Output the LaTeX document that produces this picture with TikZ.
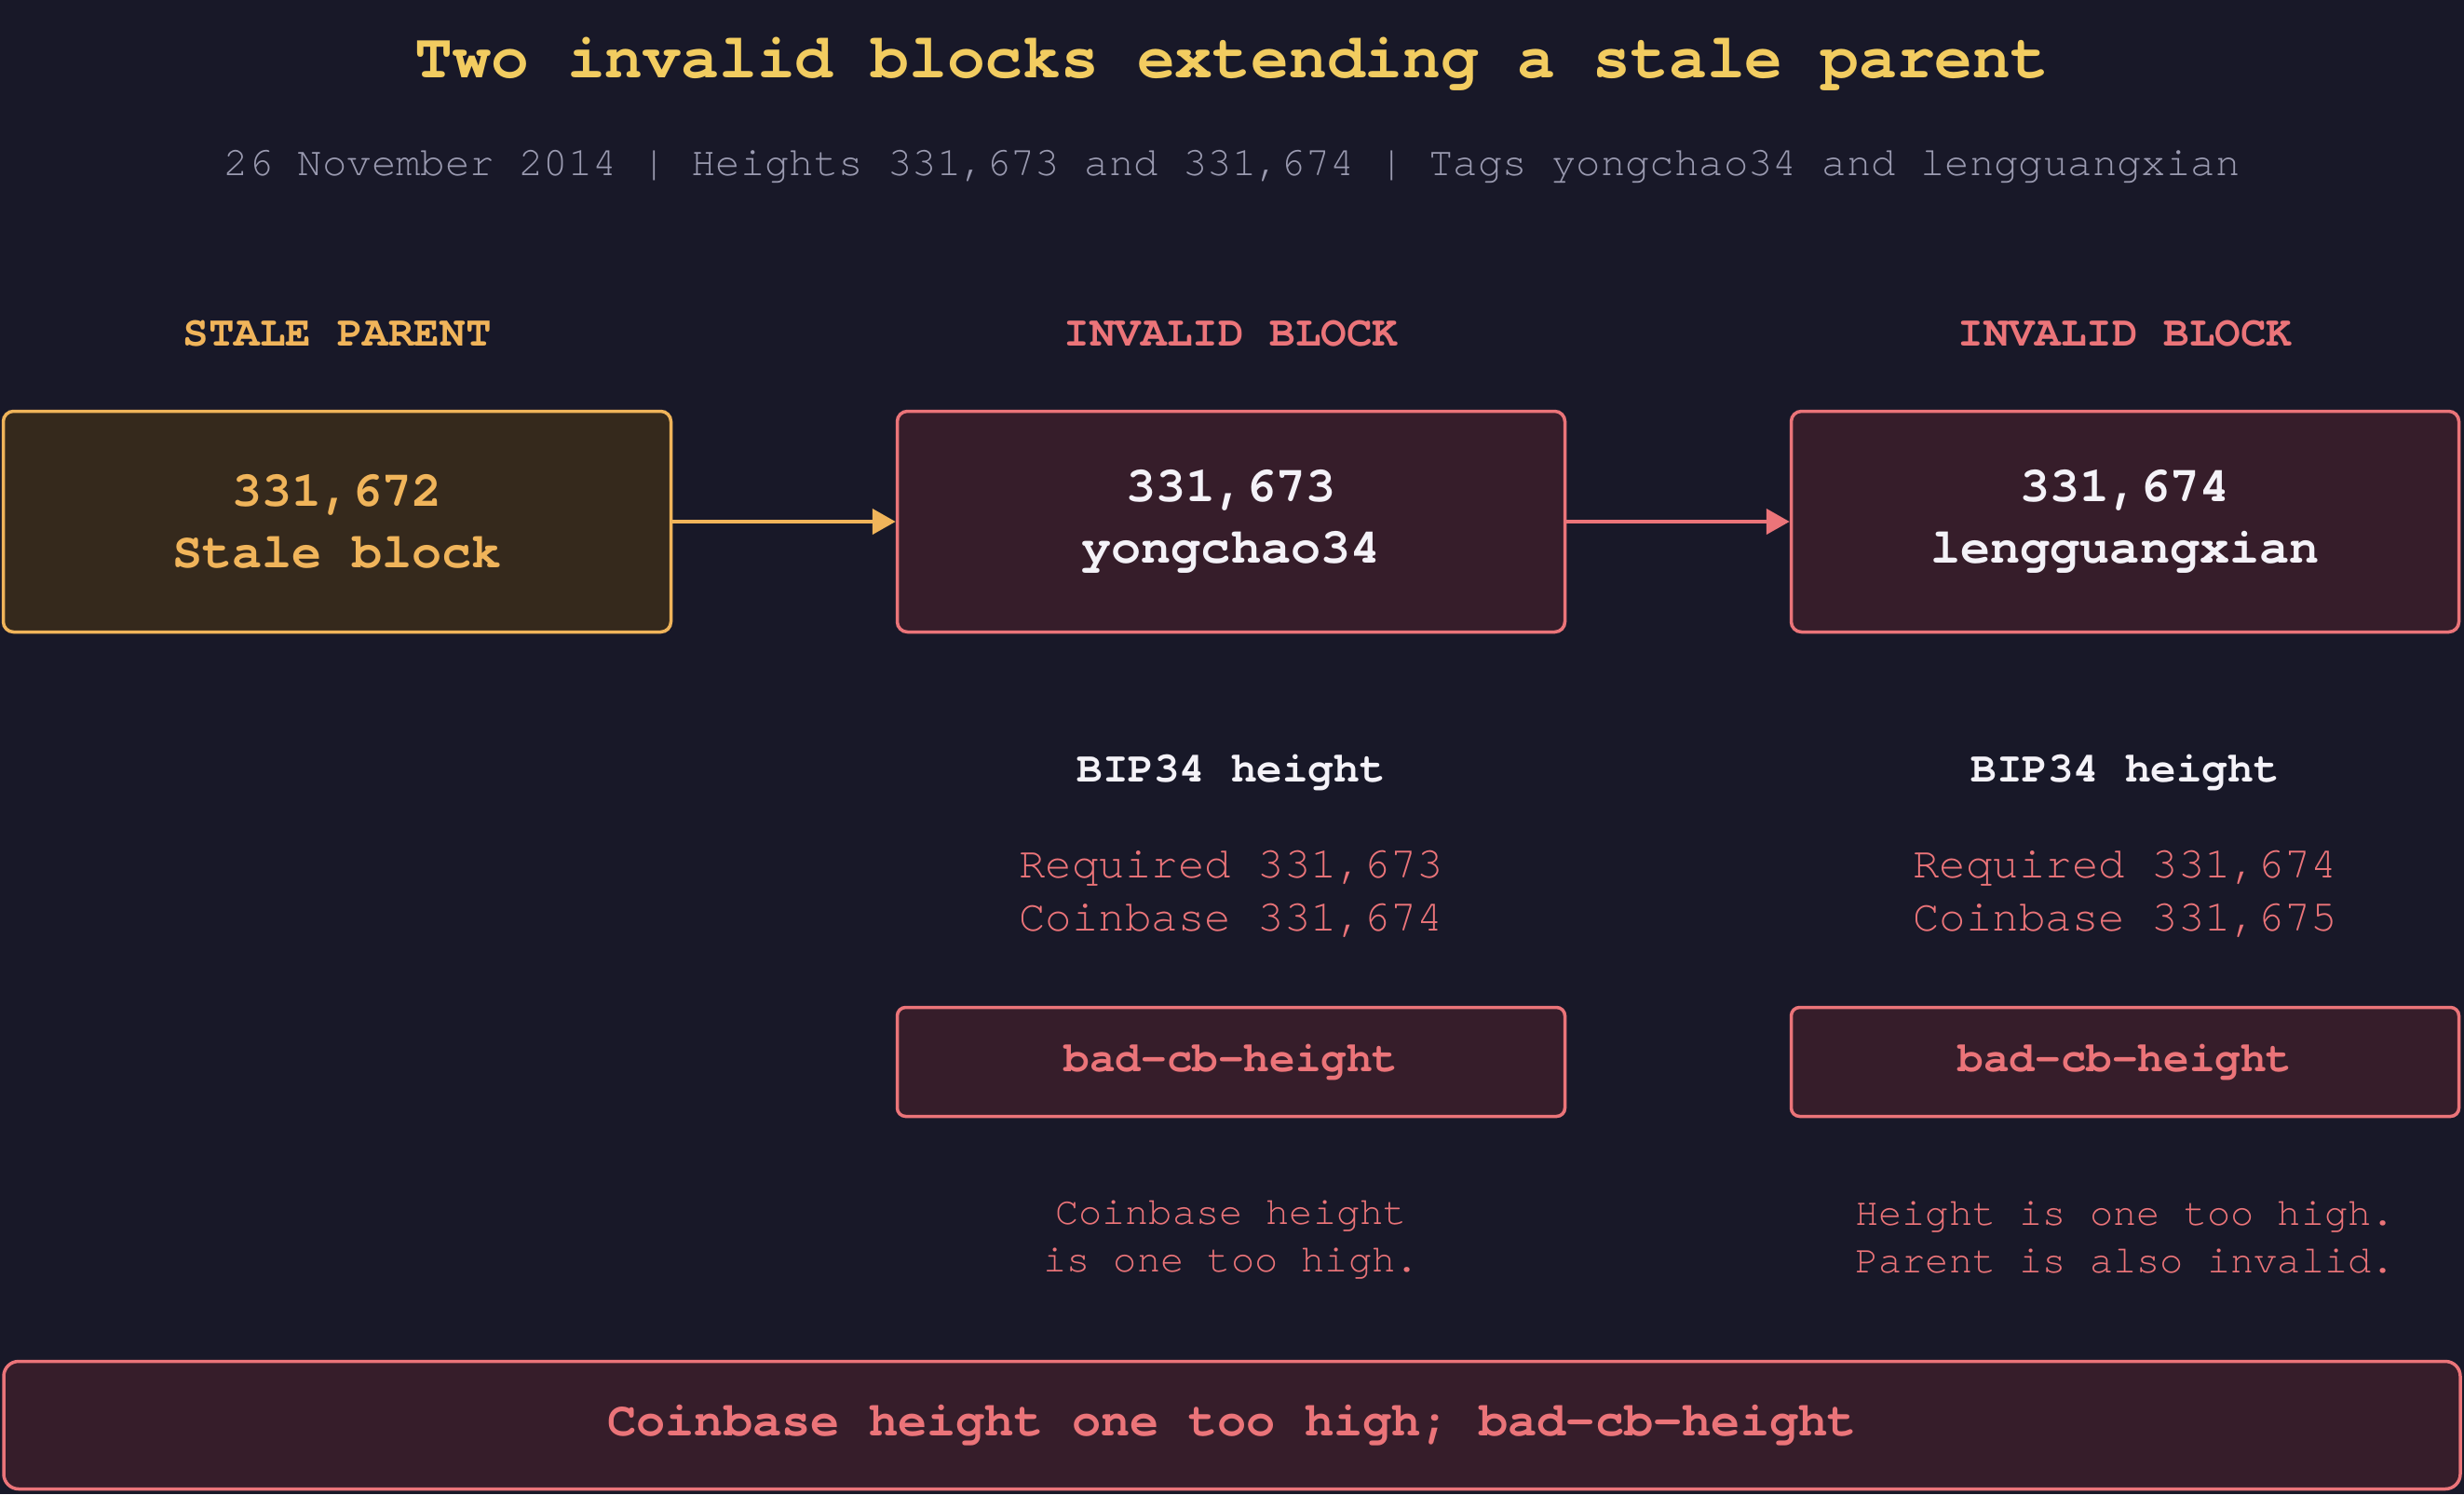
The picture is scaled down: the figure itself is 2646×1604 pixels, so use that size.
\documentclass[tikz,border=0pt]{standalone}
\usepackage{fontspec}
\setmainfont{TeX Gyre Cursor}
\usetikzlibrary{arrows.meta, positioning}
\definecolor{bgcolor}{HTML}{181828}
\definecolor{titlecolor}{HTML}{F2CC60}
\definecolor{subcolor}{HTML}{9A9AB0}
\definecolor{stalecolor}{HTML}{F0B45A}
\definecolor{stalefill}{HTML}{35291C}
\definecolor{badcolor}{HTML}{EB7479}
\definecolor{badfill}{HTML}{361D2A}
\definecolor{textwhite}{HTML}{F4F2F8}
\newcommand{\fsz}[2]{\fontsize{#1}{#2}\selectfont}

\begin{document}
\begin{tikzpicture}[
    x=1pt, y=-1pt,
    block/.style={draw, line width=3.5pt, rounded corners=11pt, minimum width=717pt, minimum height=237pt, inner sep=0pt, align=center, font=\fsz{53.5}{66}\bfseries},
    staleblock/.style={block, stalecolor, fill=stalefill, text=stalecolor},
    badblock/.style={block, badcolor, fill=badfill, text=textwhite},
    errbox/.style={draw=badcolor, fill=badfill, line width=3.5pt, rounded corners=9pt, minimum width=717pt, minimum height=117pt, inner sep=0pt, text=badcolor, font=\fsz{46}{56}\bfseries},
    header/.style={font=\fsz{46}{54}\bfseries, inner sep=0pt},
    heights/.style={font=\fsz{47.5}{57}, text=badcolor, align=center, inner sep=0pt},
    note/.style={font=\fsz{42}{51}, text=badcolor, align=center, inner sep=0pt},
    extends/.style={-{Triangle[length=25pt, width=27pt]}, line width=4.5pt}
]
    \fill[bgcolor] (0,0) rectangle (2646,1604);
    \useasboundingbox (0,0) rectangle (2646,1604);

    % Title
    \node[font=\fsz{68}{80}\bfseries, text=titlecolor, inner sep=0pt] (title) at (1323,69) {Two invalid blocks extending a stale parent};
    \node[font=\fsz{44}{52}, text=subcolor, inner sep=0pt] (subtitle) at (1323,179) {26 November 2014 | Heights 331,673 and 331,674 | Tags yongchao34 and lengguangxian};

    % Column headers
    \node[header, text=stalecolor] (hstale) at (362,358) {STALE PARENT};
    \node[header, text=badcolor] (hbadA) at (1322,358) {INVALID BLOCK};
    \node[header, text=badcolor] (hbadB) at (2282,358) {INVALID BLOCK};

    % Blocks
    \node[staleblock] (stale) at (362,560) {331,672\\Stale block};
    \node[badblock] (badA) at (1322,560) {331,673\\yongchao34};
    \node[badblock] (badB) at (2282,560) {331,674\\lengguangxian};

    \draw[extends, stalecolor] (stale) -- (badA);
    \draw[extends, badcolor] (badA) -- (badB);

    % BIP34 checks
    \node[header, text=textwhite] (bipA) at (1322,829) {BIP34 height};
    \node[header, text=textwhite] (bipB) at (2282,829) {BIP34 height};
    \node[heights] (hgtA) at (1322,960) {Required 331,673\\Coinbase 331,674};
    \node[heights] (hgtB) at (2282,960) {Required 331,674\\Coinbase 331,675};

    \node[errbox] (errA) at (1322,1140) {bad-cb-height};
    \node[errbox] (errB) at (2282,1140) {bad-cb-height};

    \node[note] (noteA) at (1322,1331) {Coinbase height\\is one too high.};
    \node[note] (noteB) at (2282,1329) {Height is one too high.\\Parent is also invalid.};

    % Summary
    \node[errbox, minimum width=2638pt, minimum height=137pt, rounded corners=16pt, font=\fsz{52}{62}\bfseries] (summary) at (1323,1530) {Coinbase height one too high; bad-cb-height};
\end{tikzpicture}
\end{document}
